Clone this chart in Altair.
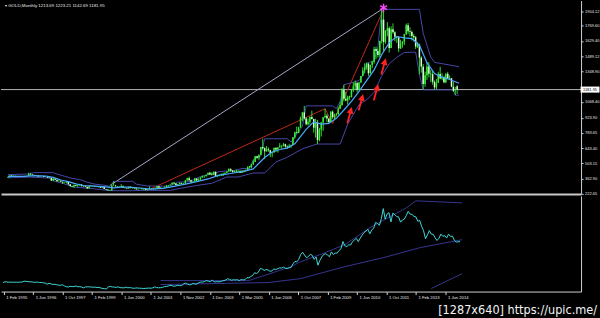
import json
import altair as alt
import pandas as pd

# ---------------- data (monthly bars, Feb 1995 .. Dec 2014) ----------------
closes = [
    376, 392, 389, 384, 387, 383, 384, 384, 383, 386, 387,
    405, 400, 396, 392, 391, 382, 385, 386, 379, 379, 372, 369,
    345, 363, 352, 340, 344, 334, 326, 325, 333, 311, 296, 290,
    304, 297, 301, 309, 294, 297, 288, 273, 294, 292, 294, 288,
    287, 287, 279, 286, 268, 262, 256, 254, 299, 299, 292, 288,
    283, 293, 278, 276, 272, 288, 276, 278, 273, 264, 270, 272,
    265, 267, 258, 264, 266, 270, 266, 273, 293, 279, 275, 277,
    282, 297, 302, 308, 326, 318, 304, 312, 323, 317, 319, 347,
    367, 347, 334, 336, 364, 346, 354, 375, 388, 386, 398, 416,
    402, 396, 426, 388, 394, 395, 391, 408, 416, 428, 453, 438,
    423, 434, 429, 435, 416, 436, 429, 433, 473, 470, 495, 517,
    569, 556, 582, 654, 643, 614, 633, 624, 599, 604, 646, 632,
    650, 665, 662, 679, 658, 650, 666, 673, 743, 789, 783, 834,
    923, 972, 916, 864, 886, 930, 912, 832, 880, 718, 814, 880,
    928, 942, 916, 884, 979, 927, 954, 955, 1007, 1040, 1182, 1097,
    1081, 1117, 1113, 1179, 1213, 1244, 1180, 1248, 1307, 1357, 1385, 1421,
    1332, 1409, 1439, 1556, 1536, 1500, 1628, 1826, 1620, 1722, 1746, 1565,
    1738, 1710, 1669, 1664, 1561, 1604, 1622, 1692, 1773, 1719, 1712, 1675,
    1663, 1578, 1595, 1476, 1393, 1234, 1313, 1395, 1327, 1323, 1253, 1202,
    1244, 1326, 1284, 1296, 1250, 1327, 1282, 1287, 1209, 1171, 1175, 1181.95,
]
highs = [
    381, 396, 397, 392, 392, 390, 389, 389, 386, 388, 390,
    418, 416, 402, 400, 395, 392, 390, 392, 388, 385, 386, 377,
    370, 365, 365, 354, 350, 346, 336, 330, 338, 333, 312, 299,
    309, 305, 303, 315, 311, 299, 297, 288, 301, 299, 300, 298,
    292, 290, 290, 291, 288, 270, 264, 260, 310, 338, 305, 292,
    290, 312, 300, 283, 281, 291, 290, 280, 279, 274, 271, 275,
    272, 268, 269, 265, 292, 275, 272, 279, 294, 293, 285, 279,
    290, 304, 305, 311, 328, 333, 323, 314, 329, 326, 322, 349,
    370, 382, 354, 342, 371, 365, 366, 376, 390, 391, 398, 417,
    426, 420, 428, 428, 398, 400, 410, 417, 419, 430, 455, 456,
    438, 438, 446, 438, 435, 441, 438, 448, 475, 478, 496, 538,
    570, 573, 584, 654, 730, 650, 663, 650, 627, 610, 646, 650,
    654, 690, 669, 692, 684, 668, 683, 676, 744, 795, 842, 840,
    933, 977, 1032, 930, 915, 935, 988, 913, 913, 903, 830, 885,
    930, 1006, 958, 917, 981, 990, 960, 967, 1024, 1072, 1195, 1226,
    1162, 1127, 1126, 1182, 1249, 1265, 1245, 1251, 1307, 1388, 1424, 1431,
    1424, 1411, 1447, 1575, 1577, 1557, 1632, 1912, 1920, 1730, 1803, 1763,
    1763, 1791, 1719, 1676, 1669, 1641, 1628, 1693, 1788, 1795, 1755, 1724,
    1694, 1676, 1617, 1604, 1488, 1416, 1348, 1433, 1434, 1361, 1361, 1266,
    1280, 1345, 1392, 1331, 1306, 1332, 1345, 1313, 1287, 1255, 1207, 1223.21,
]
lows = [
    371, 375, 387, 383, 384, 381, 381, 382, 381, 381, 385,
    386, 398, 394, 390, 390, 381, 380, 384, 378, 377, 370, 367,
    343, 340, 348, 336, 338, 333, 314, 320, 320, 307, 289, 283,
    279, 292, 286, 299, 291, 285, 287, 273, 273, 287, 290, 286,
    285, 282, 278, 278, 267, 257, 253, 252, 252, 295, 289, 280,
    280, 282, 277, 271, 270, 270, 275, 271, 270, 264, 263, 268,
    264, 255, 256, 255, 264, 264, 264, 266, 271, 277, 272, 271,
    276, 281, 289, 299, 306, 313, 301, 300, 310, 313, 313, 316,
    343, 342, 320, 323, 336, 341, 342, 353, 370, 370, 379, 397,
    400, 391, 395, 383, 378, 385, 386, 390, 403, 414, 427, 426,
    418, 419, 423, 422, 415, 415, 419, 429, 432, 458, 457, 487,
    516, 545, 532, 580, 633, 542, 612, 610, 561, 560, 602, 608,
    603, 650, 637, 660, 648, 640, 649, 647, 672, 730, 776, 782,
    830, 890, 905, 853, 851, 860, 906, 786, 740, 681, 706, 750,
    802, 918, 880, 865, 883, 914, 909, 937, 951, 1003, 1032, 1075,
    1075, 1044, 1087, 1110, 1160, 1180, 1157, 1175, 1242, 1305, 1330, 1365,
    1308, 1330, 1380, 1420, 1462, 1477, 1478, 1605, 1535, 1603, 1672, 1523,
    1563, 1696, 1627, 1612, 1527, 1555, 1567, 1590, 1684, 1695, 1672, 1635,
    1626, 1555, 1565, 1321, 1338, 1180, 1208, 1271, 1294, 1251, 1227, 1182,
    1182, 1243, 1277, 1268, 1240, 1240, 1280, 1273, 1204, 1161, 1131, 1142.69,
]
last_bar = [1213.69, 1223.21, 1142.69, 1181.95]  # O H L C of current bar
first_open = 372.0

x_labels = ["1 Feb 1995", "1 Jun 1996", "1 Oct 1997", "1 Feb 1999", "1 Jun 2000",
            "1 Jul 2001", "1 Nov 2002", "1 Dec 2003", "1 Mar 2005", "1 Jun 2006",
            "1 Oct 2007", "1 Feb 2009", "1 Jun 2010", "1 Oct 2011", "1 Feb 2013",
            "1 Jun 2014"]
y_ticks = [222.65, 362.90, 503.15, 643.40, 783.65, 923.90, 1068.40,
           1348.90, 1489.12, 1629.40, 1769.60, 1904.12]

# moving average (light blue)
ma_m = [0, 8, 14, 20, 24, 28, 32, 36, 40, 44, 48, 52, 56, 60, 64, 70, 76, 82, 88, 94,
        100, 106, 112, 118, 124, 130, 136, 140, 144, 148, 152, 158, 162, 166, 170, 174,
        178, 182, 186, 190, 194, 198, 202, 206, 210, 214, 218, 222, 226, 230, 234, 239]
ma_v = [384, 384, 390, 387, 375, 350, 335, 315, 300, 296, 292, 287, 278, 284, 285, 277,
        267, 273, 292, 313, 335, 360, 395, 410, 428, 453, 557, 608, 631, 644, 683, 816,
        885, 865, 871, 918, 994, 1073, 1165, 1265, 1363, 1503, 1614, 1670, 1657, 1650,
        1590, 1430, 1330, 1296, 1275, 1240]
# channel upper / lower (navy)
ub_m = [0, 10, 14, 24, 26, 30, 34, 38, 42, 46, 50, 54, 56, 66, 68, 74, 82, 86, 90, 96,
        102, 106, 112, 120, 124, 128, 130, 134, 136, 148, 150, 154, 156, 158, 172, 174,
        176, 178, 186, 188, 190, 194, 196, 198, 199, 218, 220, 224, 226, 239]
ub_v = [400, 405, 418, 418, 405, 385, 365, 355, 330, 312, 305, 292, 338, 338, 312, 295,
        294, 295, 330, 335, 382, 398, 428, 438, 456, 455, 538, 574, 730, 730, 700, 795,
        842, 1032, 1032, 1007, 1072, 1226, 1265, 1310, 1424, 1447, 1575, 1912, 1920,
        1920, 1700, 1480, 1433, 1392]
lb_m = [0, 12, 23, 24, 30, 34, 36, 44, 54, 66, 72, 86, 92, 100, 108, 116, 122, 130, 136,
        142, 148, 156, 162, 164, 176, 180, 186, 190, 194, 198, 202, 206, 210, 216, 218,
        220, 236, 237, 239]
lb_v = [371, 377, 367, 343, 314, 289, 283, 273, 252, 252, 255, 255, 276, 300, 320, 378,
        378, 415, 415, 516, 560, 637, 672, 681, 681, 865, 1044, 1087, 1157, 1308, 1420,
        1478, 1523, 1527, 1321, 1180, 1180, 1131, 1131]
# drawn objects
grey_m = [54, 199]
grey_v = [300, 1930]
red_m = [74, 168, 172, 199]
red_v = [255, 1006, 870, 1920]
arrow_m = [181, 187, 195, 199]
arrow_v = [947, 1066, 1158, 1396]
star_m = [199]
star_v = [1935]
# lower window lines
lp1_m = [82, 128, 150, 155, 165, 178, 191, 210, 215, 239]
lp1_v = [416, 416, 690, 787, 924, 1119, 1451, 1842, 1979, 1939]
lp2_m = [82, 138, 155, 178, 198, 217, 239]
lp2_v = [338, 377, 455, 689, 865, 1060, 1217]
lp3_m = [223, 239]
lp3_v = [260, 551]

assert len(closes) == len(highs) == len(lows) == 239

n = len(closes)
opens = [first_open] + closes[:-1]
opens[-1] = last_bar[0]
df = pd.DataFrame({
    "m": list(range(n)), "open": opens, "high": highs, "low": lows, "close": closes,
    "dir": ["up" if c >= o else "down" for o, c in zip(opens, closes)],
})

def pts(ms, vs):
    return pd.DataFrame({"m": ms, "v": vs})

# ---------------- scales & axes ----------------
FONT = "Liberation Sans"
xscale = alt.Scale(domain=[-1.04, 301.0], nice=False, zero=False)
yup = alt.Scale(domain=[222.65, 2001.1], nice=False, zero=False)
ylo = alt.Scale(domain=[201, 2076], nice=False, zero=False)

ax_x_up = alt.Axis(labels=False, ticks=False, grid=False, title=None,
                   domainColor="#c8c8c8", domainWidth=2)
ax_y_up = alt.Axis(orient="right", values=y_ticks, format=".2f", grid=False, title=None,
                   labelColor="#e8e8e8", labelFontSize=4, labelFont=FONT, tickSize=2,
                   tickColor="#d0d0d0", domainColor="#d0d0d0", labelPadding=1.5,
                   labelFlush=False, labelOverlap=False)
tick_pos = [0.36 + 15.335 * k for k in range(len(x_labels))]
ax_x_lo = alt.Axis(values=tick_pos, grid=False, title=None,
                   labelExpr=json.dumps(x_labels) + "[round((datum.value - 0.36) / 15.335)]",
                   labelColor="#e8e8e8", labelFontSize=4.2, labelFont=FONT,
                   labelAlign="left", labelOffset=2, labelPadding=1, tickSize=3,
                   tickColor="#d0d0d0", domainColor="#d0d0d0", labelFlush=False,
                   labelOverlap=False)
ax_y_lo = alt.Axis(orient="right", labels=False, ticks=False, grid=False, title=None,
                   domainColor="#d0d0d0")

X = lambda f="m": alt.X(f"{f}:Q", scale=xscale, axis=ax_x_up)
YU = lambda f: alt.Y(f"{f}:Q", scale=yup, axis=ax_y_up)

def uline(d, color, w=1.0):
    return alt.Chart(d).mark_line(color=color, strokeWidth=w).encode(x=X(), y=YU("v"))

price_line = alt.Chart(pd.DataFrame({"v": [last_bar[3]]})).mark_rule(
    color="#b4b4b4", strokeWidth=1).encode(y=YU("v"))
grey = uline(pts(grey_m, grey_v), "#a8a8c8", 1)
red = uline(pts(red_m, red_v), "#c02818", 1)
upper_b = uline(pts(ub_m, ub_v), "#4646a8", 1)
lower_b = uline(pts(lb_m, lb_v), "#4646a8", 1)
ma = uline(pts(ma_m, ma_v), "#4aa8ff", 1.2)
wicks = alt.Chart(df).mark_rule(color="#33ee33", strokeWidth=0.9).encode(
    x=X(), y=YU("low"), y2="high:Q")
bodies = alt.Chart(df).mark_bar(width=1.5).encode(
    x=X(), y=YU("open"), y2="close:Q",
    color=alt.Color("dir:N", scale=alt.Scale(domain=["up", "down"],
                                             range=["#33ee33", "#d6ffd6"]), legend=None))
arrow_path = "M-0.11,1L0.11,1L0.11,-0.2L0.4,-0.2L0,-1L-0.4,-0.2L-0.11,-0.2Z"
arrows = alt.Chart(pts(arrow_m, arrow_v)).mark_point(
    shape=arrow_path, filled=True, color="#ff2222", size=289, angle=15, opacity=1
).encode(x=X(), y=YU("v"))
star_path = "M0,-1L0,1M-0.87,-0.5L0.87,0.5M-0.87,0.5L0.87,-0.5"
star = alt.Chart(pts(star_m, star_v)).mark_point(
    shape=star_path, filled=False, color="#ff44ff", strokeWidth=1.4, size=64, opacity=1
).encode(x=X(), y=YU("v"))
title_txt = "\u25be GOLD,Monthly  " + " ".join(f"{v:.2f}" for v in last_bar)
title = alt.Chart(pd.DataFrame({"t": [title_txt]})).mark_text(
    align="left", baseline="middle", fontSize=4.4, font=FONT, color="#e8e8e8"
).encode(x=alt.value(4), y=alt.value(5), text="t:N")
box_path = "M-1,-0.32L1,-0.32L1,0.32L-1,0.32Z"
box_df = pd.DataFrame({"v": [last_bar[3]], "lbl": [f"{last_bar[3]:.2f}"]})
pbox = alt.Chart(box_df).mark_point(
    shape=box_path, filled=True, color="#ffffff", size=361, opacity=1
).encode(x=alt.value(591), y=YU("v"))
ptext = alt.Chart(box_df).mark_text(
    align="center", baseline="middle", fontSize=4, font=FONT, color="#000000"
).encode(x=alt.value(591), y=YU("v"), text="lbl:N")

upper = alt.layer(price_line, grey, red, upper_b, lower_b, wicks, bodies, ma,
                  arrows, star, title, pbox, ptext).properties(width=582, height=194)

XL = lambda: alt.X("m:Q", scale=xscale, axis=ax_x_lo)
YL = lambda f: alt.Y(f"{f}:Q", scale=ylo, axis=ax_y_lo)

def lline(d, color, w=1.0):
    return alt.Chart(d).mark_line(color=color, strokeWidth=w).encode(x=XL(), y=YL("v"))

cyan = alt.Chart(df).mark_line(color="#3fd8d8", strokeWidth=1).encode(x=XL(), y=YL("close"))
l1 = lline(pts(lp1_m, lp1_v), "#35358f", 1)
l2 = lline(pts(lp2_m, lp2_v), "#35358f", 1)
l3 = lline(pts(lp3_m, lp3_v), "#35358f", 1)
wm = alt.Chart(pd.DataFrame({"t": ["[1287x640] https://upic.me/"]})).mark_text(
    align="right", baseline="alphabetic", fontSize=12.6,
    font="Liberation Sans Narrow, DejaVu Sans Condensed, Liberation Sans",
    color="#f4f4f4"
).encode(x=alt.value(598), y=alt.value(119), text="t:N")

lower = alt.layer(l1, l2, l3, cyan, wm).properties(width=582, height=96)

chart = alt.vconcat(
    upper, lower, spacing=2, bounds="flush",
    padding={"left": 0, "right": 0, "top": 0, "bottom": 0},
).configure(background="#000000").configure_view(strokeWidth=0)

chart.save("out.html", embed_options={"renderer": "svg", "actions": False})
